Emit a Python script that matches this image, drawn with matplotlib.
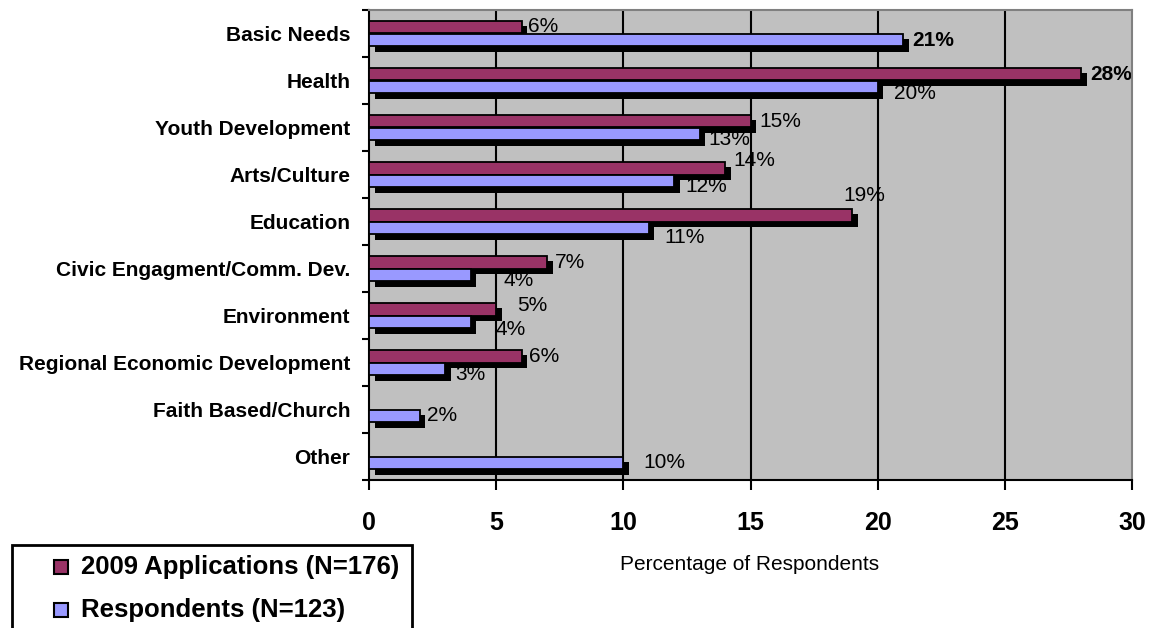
import numpy as np
import matplotlib
matplotlib.use("Agg")
import matplotlib.pyplot as plt
from matplotlib.patches import Rectangle
from matplotlib import patheffects as pe

plt.rcParams['font.family'] = ['Liberation Sans', 'DejaVu Sans']

# ---- data ----
categories = [
    "Basic Needs", "Health", "Youth Development", "Arts/Culture", "Education",
    "Civic Engagment/Comm. Dev.", "Environment", "Regional Economic Development",
    "Faith Based/Church", "Other",
]
applications_2009 = [6, 28, 15, 14, 19, 7, 5, 6, np.nan, np.nan]
respondents = [21, 20, 13, 12, 11, 4, 4, 3, 2, 10]
series_names = ["2009 Applications (N=176)", "Respondents (N=123)"]
x_ticks = [0, 5, 10, 15, 20, 25, 30]

# ---- style ----
W, H, DPI = 1151, 628, 100
MAROON = "#993366"
PERIWINKLE = "#9999FF"
PLOT_BG = "#C0C0C0"

# label offsets in pixels (right, down) for each bar's value label
app_offsets = [(6, -1), (9, 0), (9, 0), (8, -7.5), (-9, -20), (8, 0), (21, -4), (7, 0), (0, 0), (0, 0)]
resp_offsets = [(9, 1), (16, 7), (9, 6), (11, 5.5), (16, 9.5), (33, 6), (25, 7.5), (10, 5.5), (7, 0), (20, 0)]
app_bold = [False, True] + [False] * 8
resp_bold = [True] + [False] * 9

fig = plt.figure(figsize=(W / DPI, H / DPI), dpi=DPI)
fig.patch.set_facecolor("white")

def fx(px):
    return px / W

def fy(py):
    return 1 - py / H

left, right, top, bottom = 369, 1132, 10, 480
ax = fig.add_axes([fx(left), fy(bottom), fx(right) - fx(left), fy(top) - fy(bottom)])
ax.set_facecolor(PLOT_BG)

n = len(categories)
y = np.arange(n)
bh = 0.27

shadow = [pe.SimplePatchShadow(offset=(4.0, -4.0), shadow_rgbFace="black", alpha=1.0), pe.Normal()]

app_vals = np.array(applications_2009, dtype=float)
resp_vals = np.array(respondents, dtype=float)

bars_a = ax.barh(y - bh / 2, np.nan_to_num(app_vals), height=bh, color=MAROON,
                 edgecolor="black", linewidth=1.3, zorder=3)
bars_r = ax.barh(y + bh / 2, resp_vals, height=bh, color=PERIWINKLE,
                 edgecolor="black", linewidth=1.3, zorder=3)
for b, v in zip(bars_a, app_vals):
    if np.isnan(v):
        b.set_visible(False)
    else:
        b.set_path_effects(shadow)
for b in bars_r:
    b.set_path_effects(shadow)

ax.set_xlim(0, 30)
ax.set_ylim(n - 0.5, -0.5)

# vertical gridlines
for xv in x_ticks[1:-1]:
    ax.axvline(xv, color="black", linewidth=1.5, zorder=1)

# value labels
def add_labels(vals, ypos, offsets, bold):
    for v, yy, (dx, dy), b in zip(vals, ypos, offsets, bold):
        if np.isnan(v):
            continue
        ax.annotate(f"{v:.0f}%", xy=(v, yy), xytext=(dx, -dy), textcoords="offset pixels",
                    ha="left", va="center", fontsize=15,
                    fontweight="bold" if b else "normal", color="black",
                    zorder=2.5, annotation_clip=False)

add_labels(app_vals, y - bh / 2, app_offsets, app_bold)
add_labels(resp_vals, y + bh / 2, resp_offsets, resp_bold)

# axes, ticks
ax.set_xticks(x_ticks)
ax.set_xticklabels([str(t) for t in x_ticks], fontsize=18, fontweight="bold")
ax.tick_params(axis="x", direction="out", length=7.2, width=1.5, pad=15, colors="black")

ax.set_yticks(np.arange(-0.5, n, 1))
ax.set_yticklabels([])
ax.tick_params(axis="y", which="major", direction="out", length=5, width=1.5)
ax.set_yticks(y, minor=True)
ax.set_yticklabels(categories, minor=True, fontsize=15, fontweight="bold")
ax.tick_params(axis="y", which="minor", length=0, pad=13.5)

for s in ("left", "bottom"):
    ax.spines[s].set_color("black")
    ax.spines[s].set_linewidth(1.5)
for s in ("top", "right"):
    ax.spines[s].set_color("#808080")
    ax.spines[s].set_linewidth(1.5)

fig.text(fx(750), fy(565), "Percentage of Respondents", ha="center", va="center", fontsize=15)

# legend box
lg_left, lg_top, lg_right, lg_bottom = 12, 545, 412, 660
fig.add_artist(Rectangle((fx(lg_left), fy(lg_bottom)), fx(lg_right) - fx(lg_left),
                         fy(lg_top) - fy(lg_bottom), transform=fig.transFigure,
                         facecolor="white", edgecolor="black", linewidth=2, clip_on=False))
for name, col, cy in zip(series_names, [MAROON, PERIWINKLE], [567, 610]):
    fig.add_artist(Rectangle((fx(54), fy(cy + 7)), fx(14), 14 / H, transform=fig.transFigure,
                             facecolor=col, edgecolor="black", linewidth=1.5))
    fig.text(fx(81), fy(cy), name, ha="left", va="center", fontsize=18.5, fontweight="bold")

fig.savefig("out.png", dpi=DPI)
